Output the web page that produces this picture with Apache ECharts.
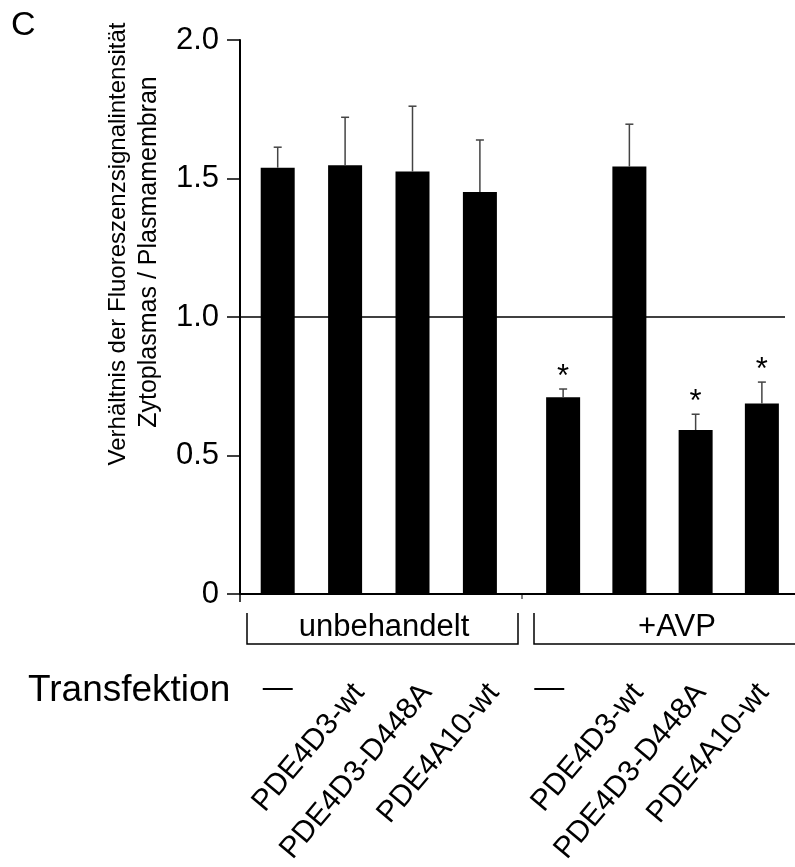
<!DOCTYPE html>
<html>
<head>
<meta charset="utf-8">
<script src="https://cdn.jsdelivr.net/npm/echarts@6/dist/echarts.min.js"></script>
<style>
html,body{margin:0;padding:0;background:#fff;}
#chart{width:795px;height:867px;}
</style>
</head>
<body>
<div id="chart"></div>
<script>
// ---- data ----
const categories1 = ['—', 'PDE4D3-wt', 'PDE4D3-D448A', 'PDE4A10-wt'];
const categories2 = ['—', 'PDE4D3-wt', 'PDE4D3-D448A', 'PDE4A10-wt'];
const means1 = [1.539, 1.548, 1.525, 1.451];
const errs1  = [0.074, 0.173, 0.236, 0.188];
const sig1   = [0, 0, 0, 0];
const means2 = [0.710, 1.543, 0.592, 0.688];
const errs2  = [0.030, 0.153, 0.057, 0.077];
const sig2   = [1, 0, 1, 1];
const yTickLabels = ['0', '0.5', '1.0', '1.5', '2.0'];
const groupNames = ['unbehandelt', '+AVP'];
const refValue = 1.0;
const yTitle = ['Verhältnis der Fluoreszenzsignalintensität', 'Zytoplasmas / Plasmamembran'];

// ---- layout ----
const FONT = 'Liberation Sans, Arial, sans-serif';
const TOP = 40, BOTTOM = 273;
const SLOT = 67.4;
const G1L = 244, G2L = 530;
const LBL_SHIFT = 14;

const chart = echarts.init(document.getElementById('chart'), null, {renderer: 'canvas'});

function errRender(params, api) {
  const x = api.value(0), m = api.value(1), e = api.value(2), s = api.value(3);
  const p0 = api.coord([x, m]);
  const p1 = api.coord([x, m + e]);
  const children = [
    {type: 'line', shape: {x1: p0[0], y1: p0[1], x2: p1[0], y2: p1[1]}, style: {stroke: '#444', lineWidth: 1.5}},
    {type: 'line', shape: {x1: p1[0] - 4, y1: p1[1], x2: p1[0] + 4, y2: p1[1]}, style: {stroke: '#444', lineWidth: 1.5}}
  ];
  if (s) {
    children.push({type: 'text', x: p1[0], y: p1[1] - 12,
      style: {text: '*', fontSize: 31, fontFamily: FONT, fill: '#000', align: 'center', verticalAlign: 'middle'}});
  }
  return {type: 'group', children};
}

const yBase = {type: 'value', min: 0, max: 2, interval: 0.5};
const hiddenAxis = {show: true, axisLine: {show: false}, axisTick: {show: false}, axisLabel: {show: false}, splitLine: {show: false}};

function labelAxis(gridIndex, cats, rotated, extra) {
  return {
    type: 'category', gridIndex, data: cats, position: 'bottom',
    axisLine: {show: false}, axisTick: {show: false}, splitLine: {show: false},
    axisLabel: Object.assign({
      interval: 0, rotate: rotated ? 50 : 0, fontSize: 30, fontFamily: FONT, color: '#000',
      margin: rotated ? 98 : 80,
      formatter: (v, i) => rotated ? (i === 0 ? '' : v) : (i === 0 ? v : '')
    }, extra || {})
  };
}

const axisLineStyle = {color: '#000', width: 2};

const option = {
  backgroundColor: '#fff',
  animation: false,
  grid: [
    {left: 240, right: 10, top: TOP, bottom: BOTTOM},
    {left: G1L, width: SLOT * 4, top: TOP, bottom: BOTTOM},
    {left: G2L, width: SLOT * 4, top: TOP, bottom: BOTTOM},
    {left: G1L + LBL_SHIFT, width: SLOT * 4, top: TOP, bottom: BOTTOM},
    {left: G2L + LBL_SHIFT, width: SLOT * 4, top: TOP, bottom: BOTTOM}
  ],
  xAxis: [
    {type: 'category', gridIndex: 0, data: [''], position: 'bottom',
     axisLine: {show: true, onZero: false, lineStyle: axisLineStyle},
     axisTick: {show: false}, axisLabel: {show: false}, splitLine: {show: false}},
    {type: 'category', gridIndex: 1, data: categories1, axisLine: {show: true, lineStyle: axisLineStyle},
     axisTick: {show: false}, axisLabel: {show: false}},
    {type: 'category', gridIndex: 2, data: categories2, axisLine: {show: true, lineStyle: axisLineStyle},
     axisTick: {show: false}, axisLabel: {show: false}},
    labelAxis(1, categories1, false),
    labelAxis(3, categories1, true),
    labelAxis(2, categories2, false, {padding: [0, 28, 0, 0]}),
    labelAxis(4, categories2, true)
  ],
  yAxis: [
    Object.assign({}, yBase, {gridIndex: 0,
      axisLine: {show: true, lineStyle: axisLineStyle},
      axisTick: {show: true, length: 13, lineStyle: {color: '#000', width: 1.5}},
      axisLabel: {margin: 21, fontSize: 31, fontFamily: FONT, color: '#000',
        formatter: v => yTickLabels[Math.round(v / 0.5)]},
      splitLine: {show: false}}),
    Object.assign({}, yBase, hiddenAxis, {gridIndex: 1}),
    Object.assign({}, yBase, hiddenAxis, {gridIndex: 2}),
    Object.assign({}, yBase, hiddenAxis, {gridIndex: 3}),
    Object.assign({}, yBase, hiddenAxis, {gridIndex: 4})
  ],
  series: [
    {type: 'line', xAxisIndex: 0, yAxisIndex: 0, data: [], silent: true,
     markLine: {silent: true, symbol: 'none', label: {show: false},
       lineStyle: {color: '#000', width: 1.5, type: 'solid'}, data: [{yAxis: refValue}]}},
    {type: 'bar', xAxisIndex: 1, yAxisIndex: 1, barWidth: 34, data: means1, itemStyle: {color: '#000'}},
    {type: 'bar', xAxisIndex: 2, yAxisIndex: 2, barWidth: 34, data: means2, itemStyle: {color: '#000'}},
    {type: 'custom', xAxisIndex: 1, yAxisIndex: 1, renderItem: errRender, z: 5,
     data: means1.map((m, i) => [i, m, errs1[i], sig1[i]])},
    {type: 'custom', xAxisIndex: 2, yAxisIndex: 2, renderItem: errRender, z: 5,
     data: means2.map((m, i) => [i, m, errs2[i], sig2[i]])}
  ],
  graphic: [
    {type: 'text', left: 11, top: 9, style: {text: 'C', fontSize: 34, fontFamily: FONT, fill: '#000'}},
    {type: 'text', x: 118, y: 244, rotation: Math.PI / 2,
     style: {text: yTitle[0], fontSize: 24, fontFamily: FONT, fill: '#000', align: 'center', verticalAlign: 'middle'}},
    {type: 'text', x: 149, y: 252, rotation: Math.PI / 2,
     style: {text: yTitle[1], fontSize: 25, fontFamily: FONT, fill: '#000', align: 'center', verticalAlign: 'middle'}},
    // y axis extension below zero and separator tick
    {type: 'line', shape: {x1: 240, y1: 594, x2: 240, y2: 602}, style: {stroke: '#000', lineWidth: 1.5}},
    {type: 'line', shape: {x1: 522, y1: 594, x2: 522, y2: 599}, style: {stroke: '#000', lineWidth: 1}},
    // group brackets
    {type: 'polyline', shape: {points: [[247, 613], [247, 644], [518, 644], [518, 613]]}, style: {stroke: '#000', fill: null, lineWidth: 1.5}},
    {type: 'polyline', shape: {points: [[534, 613], [534, 644], [800, 644]]}, style: {stroke: '#000', fill: null, lineWidth: 1.5}},
    {type: 'text', x: 384, y: 627, style: {text: groupNames[0], fontSize: 31, fontFamily: FONT, fill: '#000', align: 'center', verticalAlign: 'middle'}},
    {type: 'text', x: 677, y: 627, style: {text: groupNames[1], fontSize: 31, fontFamily: FONT, fill: '#000', align: 'center', verticalAlign: 'middle'}},
    {type: 'text', x: 28, y: 691, style: {text: 'Transfektion', fontSize: 37, fontFamily: FONT, fill: '#000', align: 'left', verticalAlign: 'middle'}}
  ]
};
chart.setOption(option);
</script>
</body>
</html>
